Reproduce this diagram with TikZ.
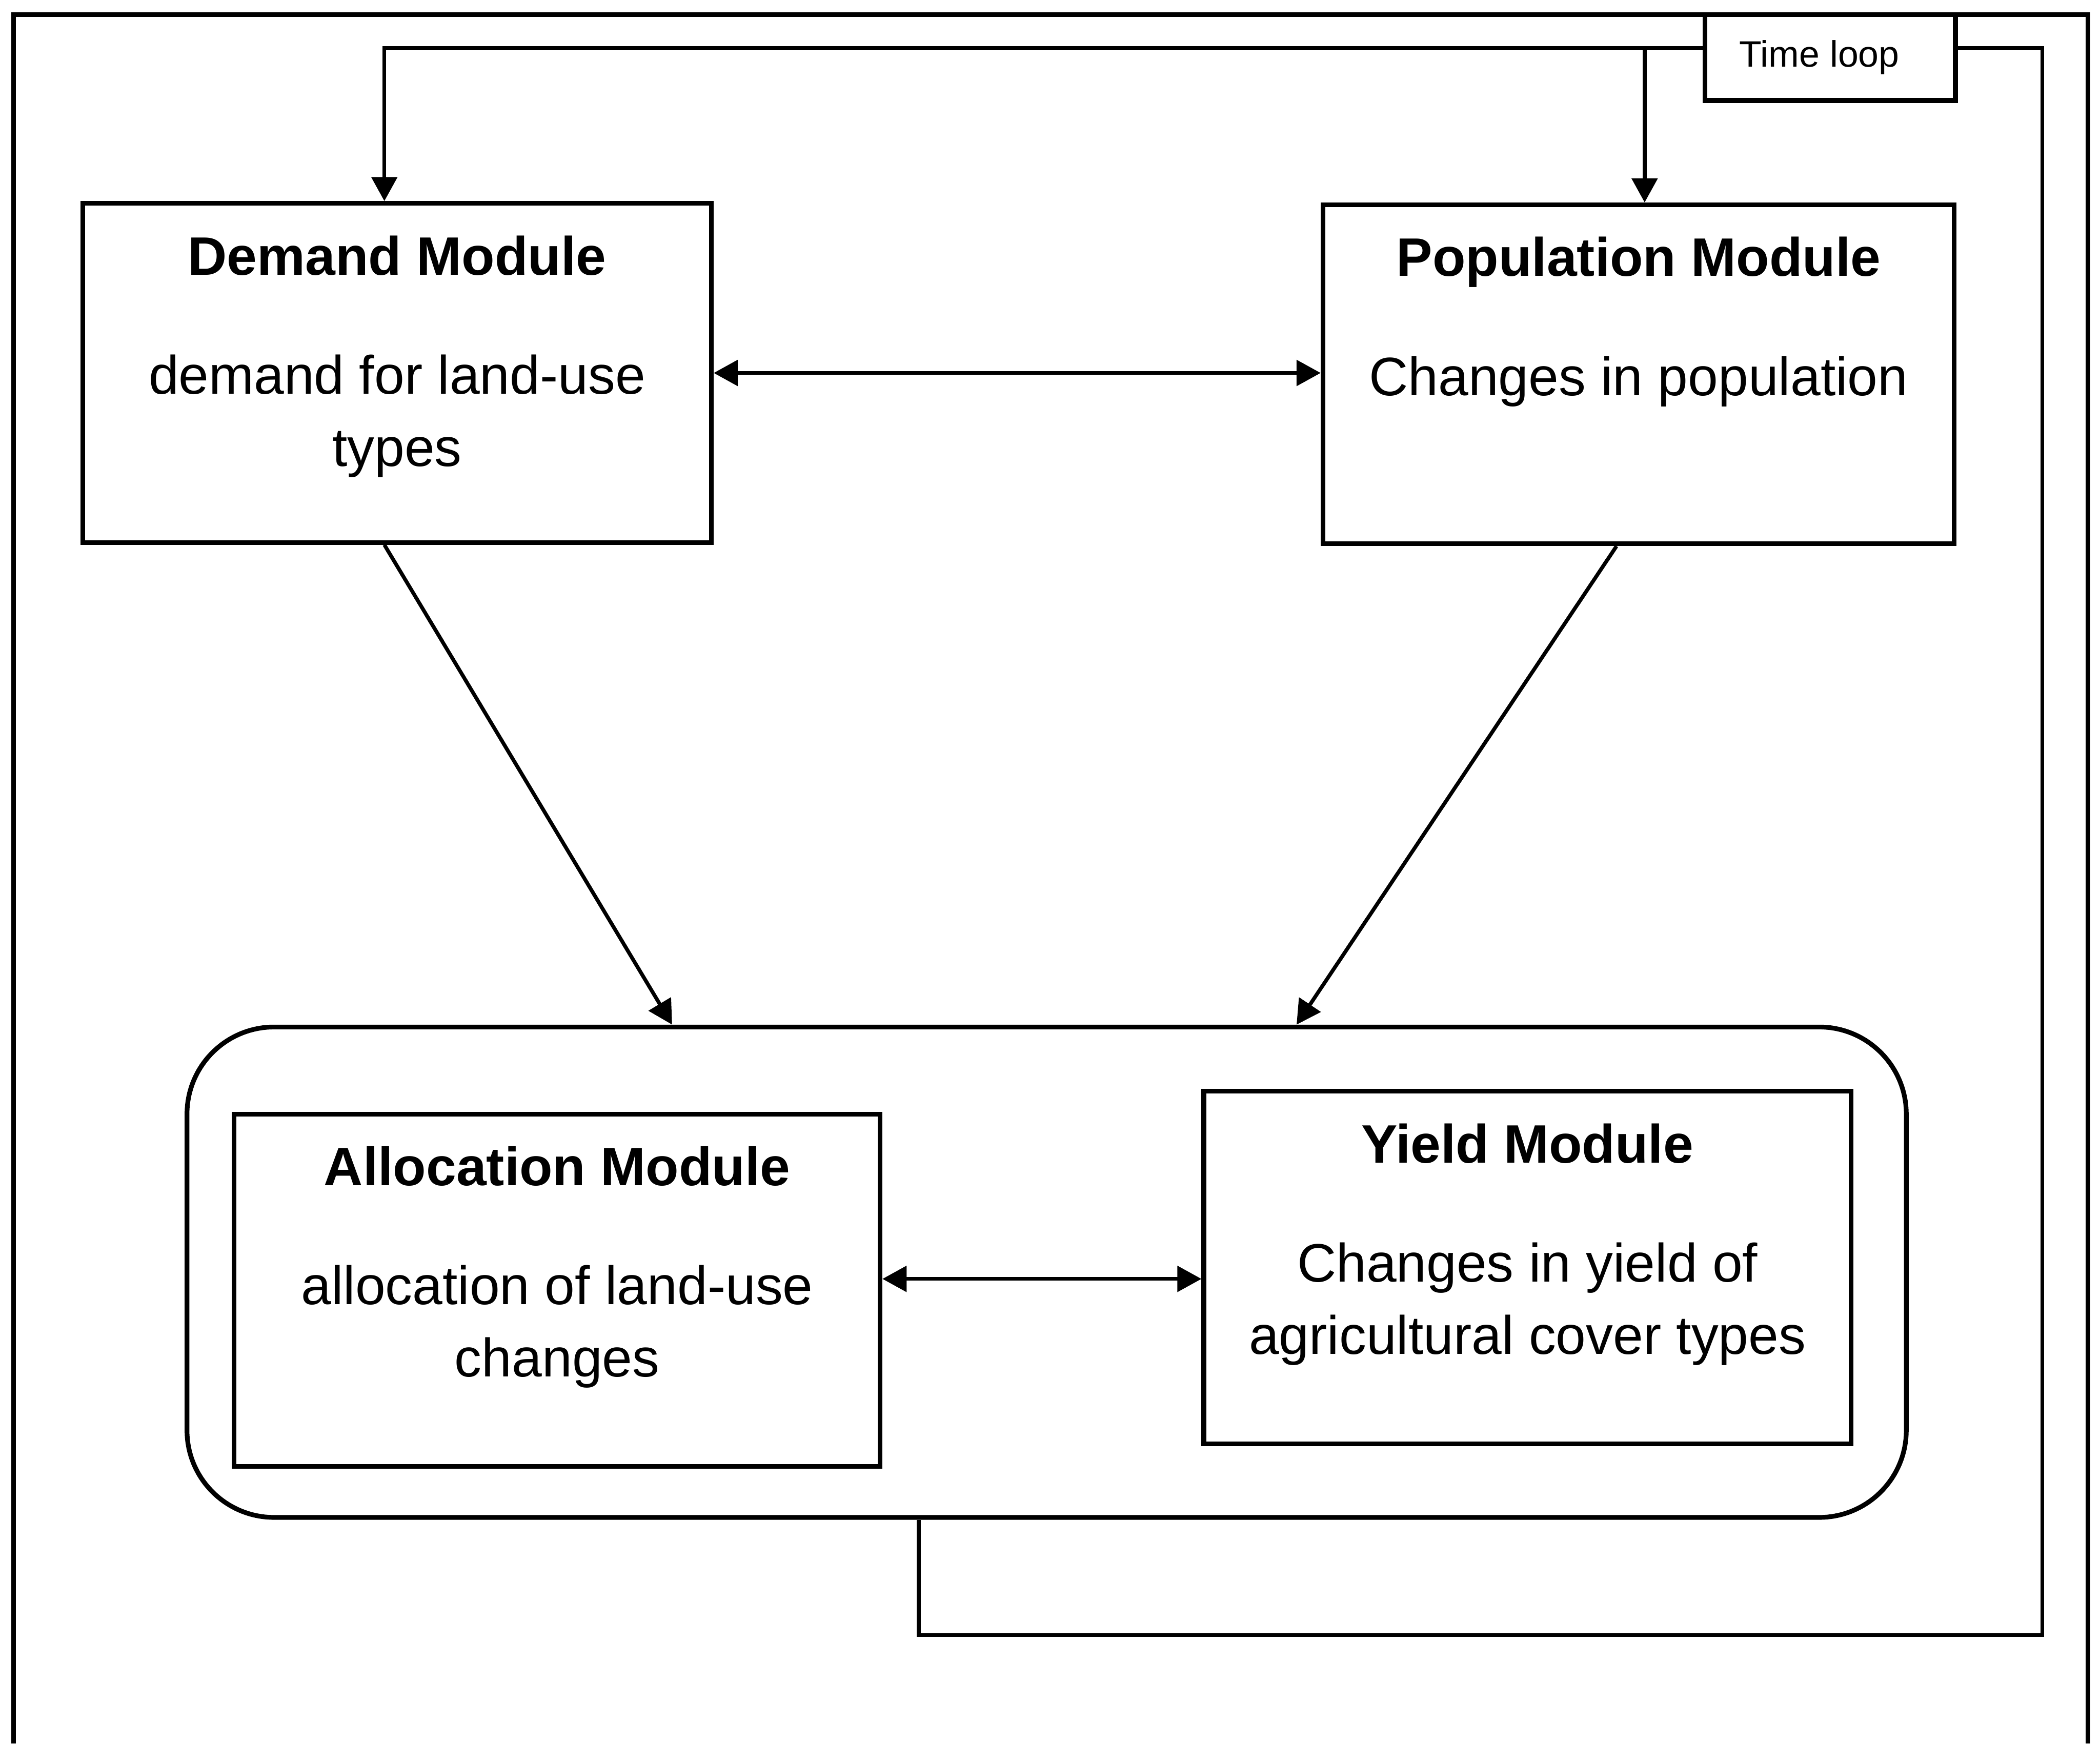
\documentclass[tikz,border=0pt]{standalone}
\usepackage{fontspec}
\setmainfont{Liberation Sans}
\usetikzlibrary{arrows.meta,positioning,calc}

\begin{document}
\begin{tikzpicture}[x=0.01cm, y=-0.01cm, line width=1pt,
  modbox/.style={draw, inner sep=0pt},
  boxtxt/.style={anchor=north, align=center, inner sep=0pt, yshift=-2.4mm,
    font=\fontsize{11.5}{15.3}\selectfont},
  arr/.style={-{Triangle[length=1.8mm,width=1.9mm]}, line width=0.8pt},
  darr/.style={{Triangle[length=1.8mm,width=1.9mm]}-{Triangle[length=1.8mm,width=1.9mm]}, line width=0.8pt}]
  \useasboundingbox (0,0) rectangle (1568,1302);
  % outer frame
  \draw (10,1302) -- (10,11) -- (1559,11) -- (1559,1302);
  % modules
  \node[modbox, minimum width=4.69cm, minimum height=2.53cm] (dem) at (296.5,278.5) {};
  \node[modbox, minimum width=4.71cm, minimum height=2.53cm] (pop) at (1223.5,279.5) {};
  \node[draw, rounded corners=6.5mm, minimum width=12.83cm, minimum height=3.66cm] (core) at (781.5,950) {};
  \node[modbox, minimum width=4.82cm, minimum height=2.63cm] (alloc) at (416,963.5) {};
  \node[modbox, minimum width=4.83cm, minimum height=2.63cm] (yld) at (1140.5,946.5) {};
  \node[modbox, minimum width=1.87cm, minimum height=0.64cm, font=\fontsize{7.8}{9}\selectfont] (tl) at (1366.5,43) {Time loop\hspace*{1.6mm}};
  \node[boxtxt] (demtxt) at (dem.north) {\textbf{Demand Module}\\[10pt]demand for land-use\\types};
  \node[boxtxt] (poptxt) at (pop.north) {\textbf{Population Module}\\[10pt]Changes in population};
  \node[boxtxt] (alloctxt) at (alloc.north) {\textbf{Allocation Module}\\[10pt]allocation of land-use\\changes};
  \node[boxtxt] (yldtxt) at (yld.north) {\textbf{Yield Module}\\[10pt]Changes in yield of\\agricultural cover types};
  % time loop
  \draw[arr] ([yshift=.7mm]tl.west) -| ([xshift=-.95mm]dem.north);
  \draw[arr] ([yshift=.7mm,xshift=.45mm]tl.west -| pop.north) -- ([xshift=.45mm]pop.north);
  \coordinate (fb) at (1525,1221);
  \draw[line width=0.8pt] ([yshift=.7mm]tl.east) -| (fb) -| ([xshift=-9.55mm]core.south);
  % links
  \draw[darr] (dem.east) -- (dem.east -| pop.west);
  \draw[darr] (alloc.east |- 0,955) -- (yld.west |- 0,955);
  \draw[arr] ([xshift=-.95mm]dem.south) -- ([xshift=-27.95mm]core.north);
  \draw[arr] ([xshift=-1.65mm]pop.south) -- ([xshift=18.65mm]core.north);
\end{tikzpicture}
\end{document}
